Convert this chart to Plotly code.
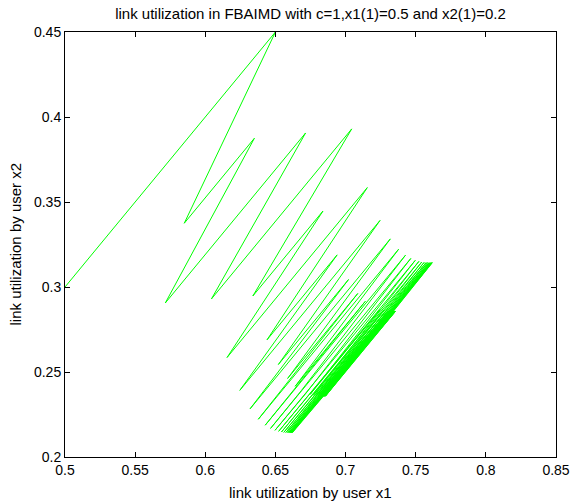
import plotly.graph_objects as go

title_text = "link utilization in FBAIMD with c=1,x1(1)=0.5 and x2(1)=0.2"
x_label = "link utilization by user x1"
y_label = "link utilization by user x2"

x1 = [0.5, 0.55, 0.6, 0.65, 0.585, 0.635, 0.5715, 0.6215, 0.6715, 0.6044,
      0.6544, 0.7044, 0.6339, 0.6839, 0.6155, 0.6655, 0.7155, 0.6440, 0.6940, 0.6246,
      0.6746, 0.7246, 0.6521, 0.7021, 0.6319, 0.6819, 0.7319, 0.6587, 0.7087, 0.6378,
      0.6878, 0.7378, 0.6641, 0.7141, 0.6427, 0.6927, 0.7427, 0.6684, 0.7184, 0.6465,
      0.6965, 0.7465, 0.6719, 0.7219, 0.6497, 0.6997, 0.7497, 0.6747, 0.7247, 0.6523,
      0.7023, 0.7523, 0.6770, 0.7270, 0.6543, 0.7043, 0.7543, 0.6789, 0.7289, 0.6560,
      0.7060, 0.7560, 0.6804, 0.7304, 0.6574, 0.7074, 0.7574, 0.6816, 0.7316, 0.6585,
      0.7085, 0.7585, 0.6826, 0.7326, 0.6594, 0.7094, 0.7594, 0.6834, 0.7334, 0.6601,
      0.7101, 0.7601, 0.6841, 0.7341, 0.6607, 0.7107, 0.7607, 0.6846, 0.7346, 0.6611,
      0.7111, 0.7611, 0.6850, 0.7350, 0.6615, 0.7115, 0.7615, 0.6854, 0.7354, 0.6618,
      0.7118, 0.7618, 0.6856, 0.7356, 0.6621]

x2 = [0.3, 0.35, 0.4, 0.45, 0.3375, 0.3875, 0.2906, 0.3406, 0.3906, 0.2930,
      0.3430, 0.3930, 0.2947, 0.3447, 0.2585, 0.3085, 0.3585, 0.2689, 0.3189, 0.2392,
      0.2892, 0.3392, 0.2544, 0.3044, 0.2283, 0.2783, 0.3283, 0.2462, 0.2962, 0.2222,
      0.2722, 0.3222, 0.2416, 0.2916, 0.2187, 0.2687, 0.3187, 0.2390, 0.2890, 0.2168,
      0.2668, 0.3168, 0.2376, 0.2876, 0.2157, 0.2657, 0.3157, 0.2368, 0.2868, 0.2151,
      0.2651, 0.3151, 0.2363, 0.2863, 0.2147, 0.2647, 0.3147, 0.2360, 0.2860, 0.2145,
      0.2645, 0.3145, 0.2359, 0.2859, 0.2144, 0.2644, 0.3144, 0.2358, 0.2858, 0.2144,
      0.2644, 0.3144, 0.2358, 0.2858, 0.2143, 0.2643, 0.3143, 0.2357, 0.2857, 0.2143,
      0.2643, 0.3143, 0.2357, 0.2857, 0.2143, 0.2643, 0.3143, 0.2357, 0.2857, 0.2143,
      0.2643, 0.3143, 0.2357, 0.2857, 0.2143, 0.2643, 0.3143, 0.2357, 0.2857, 0.2143,
      0.2643, 0.3143, 0.2357, 0.2857, 0.2143]

x_ticks = [0.5, 0.55, 0.6, 0.65, 0.7, 0.75, 0.8, 0.85]
x_tick_text = ["0.5", "0.55", "0.6", "0.65", "0.7", "0.75", "0.8", "0.85"]
y_ticks = [0.2, 0.25, 0.3, 0.35, 0.4, 0.45]
y_tick_text = ["0.2", "0.25", "0.3", "0.35", "0.4", "0.45"]

FONT = "Liberation Sans, Arial, sans-serif"

fig = go.Figure()
fig.add_trace(go.Scatter(x=x1, y=x2, mode="lines",
                         line=dict(color="#00FF00", width=1),
                         showlegend=False, hoverinfo="skip"))

axis_common = dict(showline=True, linecolor="black", linewidth=1, mirror="ticks",
                   ticks="inside", ticklen=5, tickcolor="black", tickwidth=1,
                   showgrid=False, zeroline=False,
                   tickfont=dict(family=FONT, size=14, color="black"))

fig.update_xaxes(range=[0.5, 0.85], tickvals=x_ticks, ticktext=x_tick_text, **axis_common)
fig.update_yaxes(range=[0.2, 0.45], tickvals=y_ticks, ticktext=y_tick_text, **axis_common)

fig.update_layout(
    width=582, height=503,
    margin=dict(l=65, r=18, t=32, b=46, pad=0),
    paper_bgcolor="white", plot_bgcolor="white",
    title=dict(text=title_text, x=0.5, xref="paper", xanchor="center",
               y=1 - 14 / 503, yref="container", yanchor="middle",
               font=dict(family=FONT, size=15, color="black")),
    annotations=[
        dict(text=x_label, xref="paper", yref="paper", x=0.5, y=0,
             yshift=-35, xanchor="center", yanchor="middle", showarrow=False,
             font=dict(family=FONT, size=15, color="black")),
        dict(text=y_label, xref="paper", yref="paper", x=0, y=0.5,
             xshift=-50, xanchor="center", yanchor="middle", textangle=-90,
             showarrow=False, font=dict(family=FONT, size=15, color="black")),
    ],
)

fig.write_html("out.html", config={"displayModeBar": False},
               post_script="document.body.style.margin='0';document.body.style.overflow='hidden';")
